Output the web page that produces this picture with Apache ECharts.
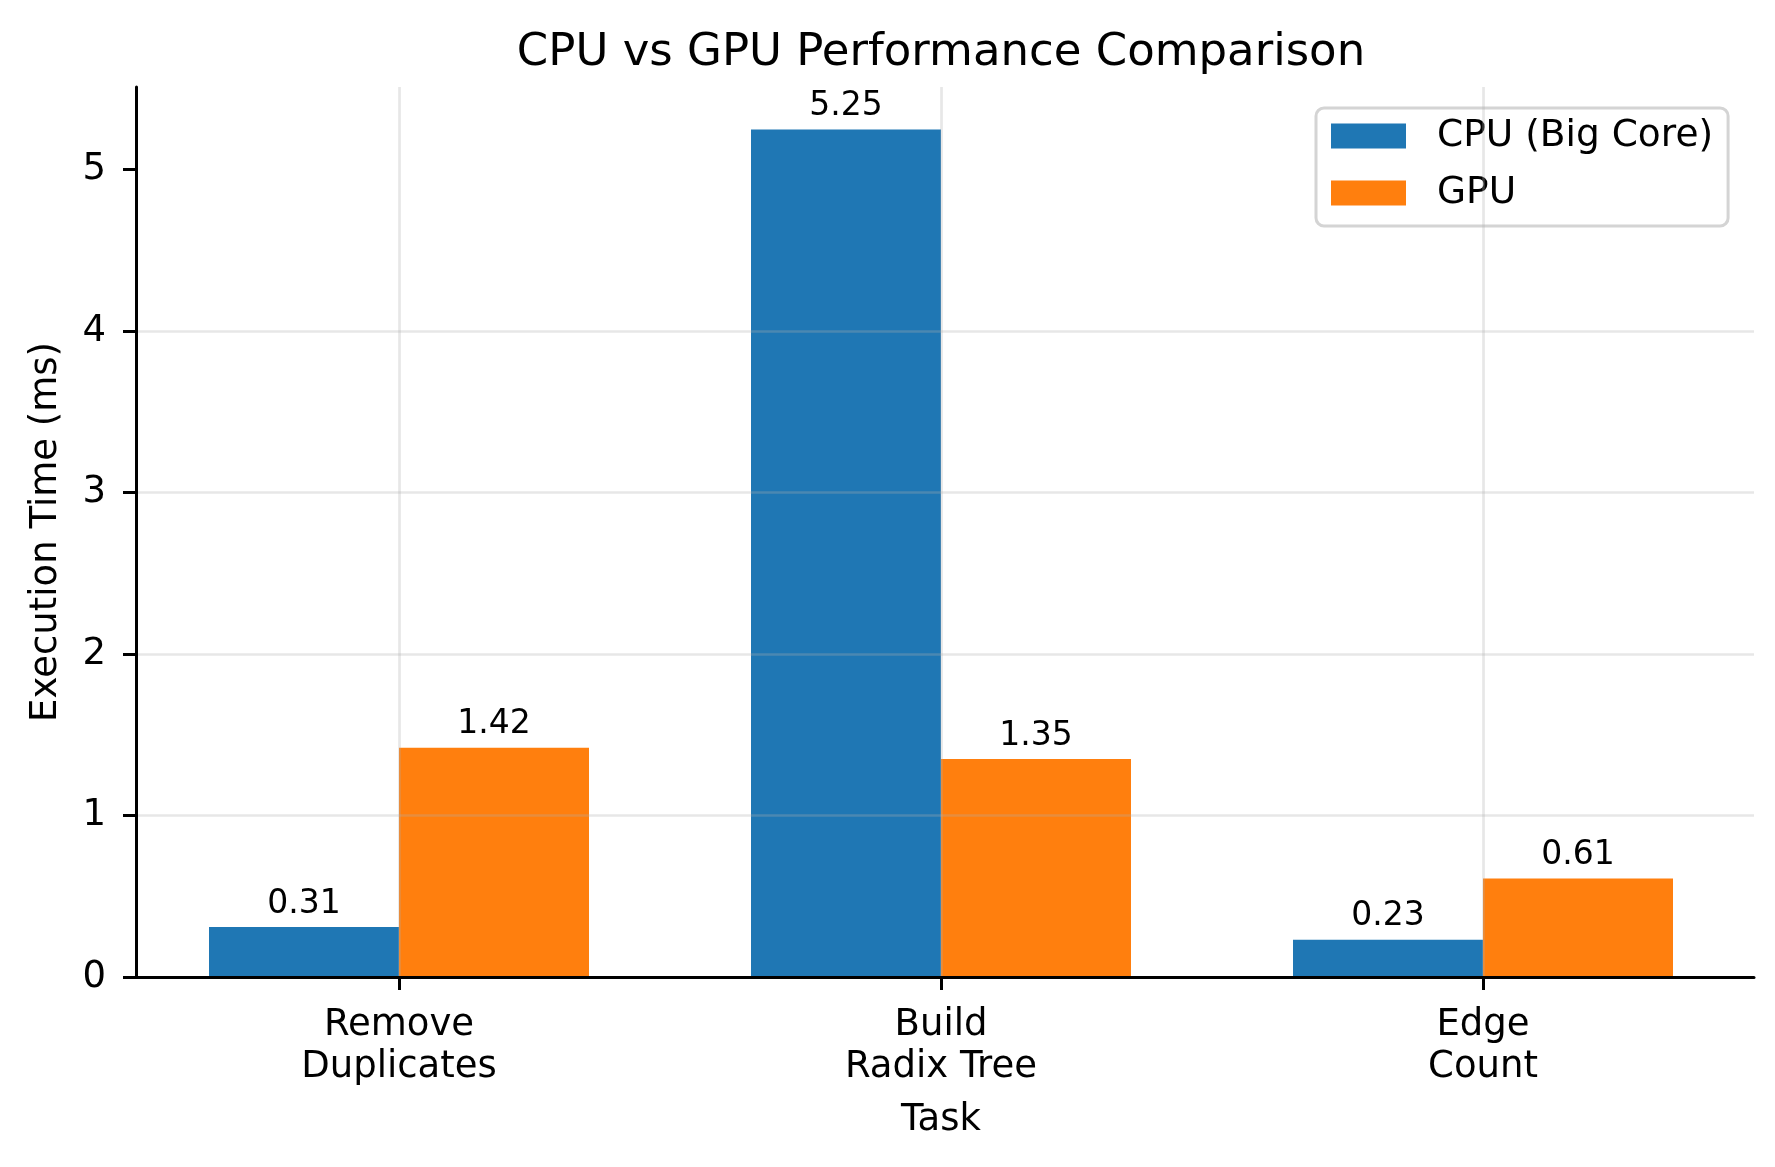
<!DOCTYPE html>
<html>
<head>
<meta charset="utf-8">
<script src="https://cdn.jsdelivr.net/npm/echarts@6/dist/echarts.min.js"></script>
<style>
html,body{margin:0;padding:0;background:#fff;}
#chart{width:1775px;height:1167px;}
</style>
</head>
<body>
<div id="chart"></div>
<script>
const categories = ['Remove\nDuplicates', 'Build\nRadix Tree', 'Edge\nCount'];
const cpuValues = [0.31, 5.25, 0.23];
const gpuValues = [1.42, 1.35, 0.61];
const yTicks = [0, 1, 2, 3, 4, 5];
const seriesNames = ['CPU (Big Core)', 'GPU'];

const FONT = 'DejaVu Sans';
const chart = echarts.init(document.getElementById('chart'), null, {renderer: 'canvas'});
const labelCfg = {
  show: true, position: 'top', distance: 6.5,
  fontFamily: FONT, fontSize: 33, color: '#000',
  formatter: p => p.value.toFixed(2)
};
chart.setOption({
  animation: false,
  backgroundColor: '#fff',
  title: {
    text: 'CPU vs GPU Performance Comparison',
    left: 936, top: 26, textAlign: 'center',
    textStyle: {fontFamily: FONT, fontSize: 45, fontWeight: 'normal', color: '#000'}
  },
  legend: {
    left: 1316, top: 108,
    orient: 'vertical',
    itemWidth: 75, itemHeight: 25, itemGap: 19,
    padding: [9, 15, 14, 15],
    borderColor: '#d4d4d4', borderWidth: 3, borderRadius: 8,
    backgroundColor: 'rgba(255,255,255,0.8)',
    icon: 'rect',
    textStyle: {fontFamily: FONT, fontSize: 37.5, color: '#000', padding: [0, 0, 0, 26]},
    data: seriesNames
  },
  grid: {left: 128, right: 21, top: 87, bottom: 190, containLabel: false},
  xAxis: {
    type: 'category',
    data: categories,
    z: 5,
    name: 'Task', nameLocation: 'middle', nameGap: 125,
    nameTextStyle: {fontFamily: FONT, fontSize: 37, color: '#000'},
    axisLine: {show: true, lineStyle: {color: '#000', width: 3}},
    axisTick: {show: true, alignWithLabel: true, length: 13, lineStyle: {color: '#000', width: 3}},
    axisLabel: {fontFamily: FONT, fontSize: 37, color: '#000', margin: 27, lineHeight: 42},
    splitLine: {show: true, alignWithLabel: true, lineStyle: {color: 'rgba(176,176,176,0.3)', width: 2.7}}
  },
  yAxis: {
    type: 'value',
    min: 0, max: 5.5125, interval: 1,
    offset: -8,
    z: 5,
    name: 'Execution Time (ms)', nameLocation: 'middle', nameGap: 71,
    nameTextStyle: {fontFamily: FONT, fontSize: 37, color: '#000'},
    axisLine: {show: true, lineStyle: {color: '#000', width: 3}},
    axisTick: {show: true, length: 13, customValues: yTicks, lineStyle: {color: '#000', width: 3}},
    axisLabel: {fontFamily: FONT, fontSize: 37, color: '#000', margin: 30, customValues: yTicks},
    splitLine: {show: true, showMaxLine: false, showMinLine: false, lineStyle: {color: 'rgba(176,176,176,0.3)', width: 2.7}}
  },
  series: [
    {name: seriesNames[0], type: 'bar', data: cpuValues, barWidth: 190, barGap: '0%',
     itemStyle: {color: '#1f77b4'}, label: labelCfg},
    {name: seriesNames[1], type: 'bar', data: gpuValues, barWidth: 190, barGap: '0%',
     itemStyle: {color: '#ff7f0e'}, label: labelCfg}
  ]
});
</script>
</body>
</html>
